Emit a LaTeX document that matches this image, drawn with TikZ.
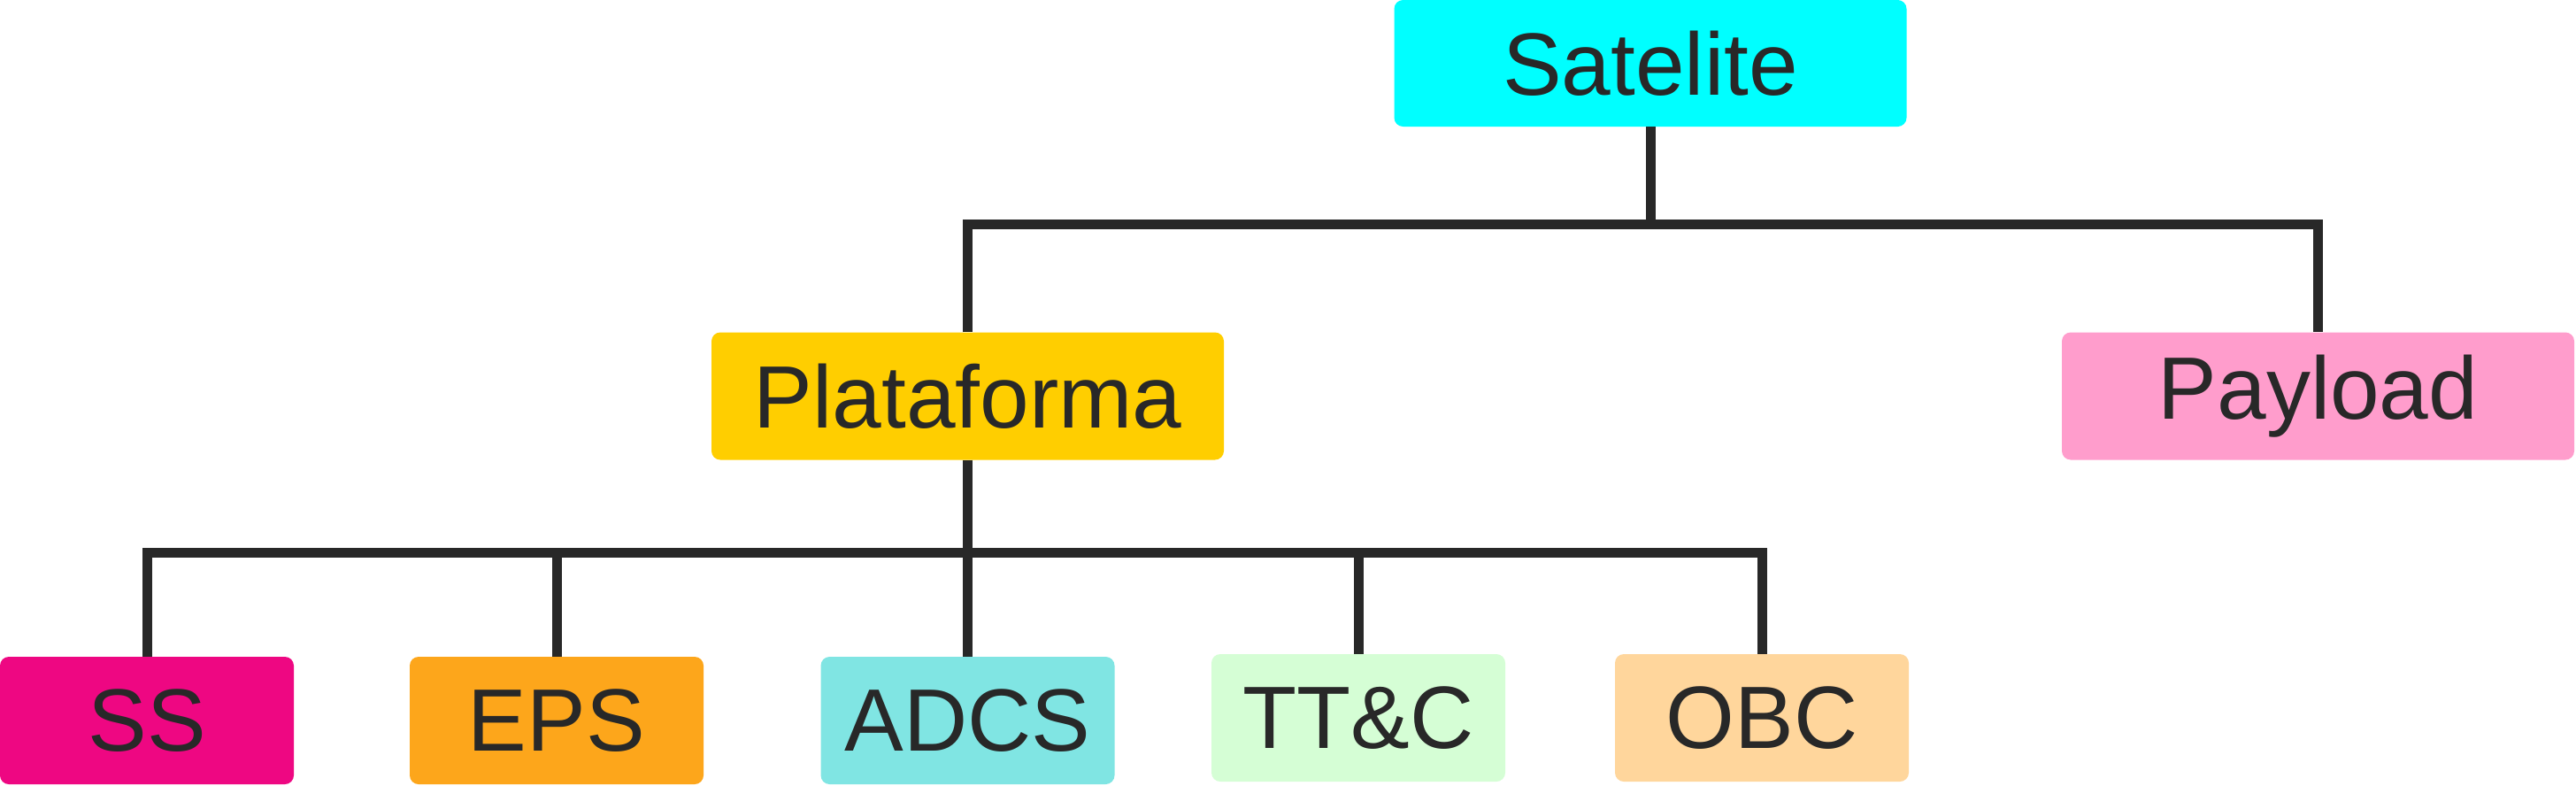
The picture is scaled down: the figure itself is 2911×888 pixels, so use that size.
\documentclass[tikz,border=0pt]{standalone}
\usepackage{fontspec}
\setmainfont{Liberation Sans}
\usepackage{xcolor}
\usetikzlibrary{positioning, calc}

\definecolor{linegray}{HTML}{282828}
\definecolor{satcyan}{HTML}{00FFFF}
\definecolor{platgold}{HTML}{FFCE00}
\definecolor{paypink}{HTML}{FF9DCC}
\definecolor{ssmagenta}{HTML}{EE0782}
\definecolor{epsorange}{HTML}{FDA61B}
\definecolor{adcsteal}{HTML}{80E5E3}
\definecolor{ttcgreen}{HTML}{D5FED5}
\definecolor{obcpeach}{HTML}{FFD69C}

\begin{document}
\begin{tikzpicture}[
    x=1bp, y=-1bp,
    block/.style={rectangle, rounded corners=10bp, inner sep=0pt, minimum height=144bp, align=center, text=linegray, font=\fontsize{100bp}{120bp}\selectfont},
    wide/.style={block, minimum width=579bp},
    small/.style={block, minimum width=332bp},
    link/.style={line width=11bp, draw=linegray}
]
\useasboundingbox (0,0) rectangle (2911,888);

% Nodes
\node[wide, fill=satcyan, minimum height=143bp] (satelite) at (1865,71.5) {Satelite};
\node[wide, fill=platgold] (plataforma) at (1093.5,447.5) {Plataforma};
\node[wide, fill=paypink] (payload) at (2619.5,447.5) {Payload};

\node[small, fill=ssmagenta] (ss) at (166,814) {SS};
\node[small, fill=epsorange] (eps) at (629,814) {EPS};
\node[small, fill=adcsteal] (adcs) at (1093.5,814) {ADCS};
\node[small, fill=ttcgreen] (ttc) at (1535,811) {TT\&C};
\node[small, fill=obcpeach] (obc) at (1991,811) {OBC};

% Lines
\coordinate (topbus) at (0,253);
\coordinate (lowbus) at (0,624);
\draw[link] (satelite.south) -- (satelite.south |- topbus);
\draw[link] (plataforma.north) |- (payload.north |- topbus) -- (payload.north);
\draw[link] (plataforma.south) -- (plataforma.south |- lowbus);
\draw[link] (ss.north) |- (obc.north |- lowbus) -- (obc.north);
\foreach \n in {eps, adcs, ttc}
    \draw[link] (\n.north) -- (\n.north |- lowbus);

\end{tikzpicture}
\end{document}
